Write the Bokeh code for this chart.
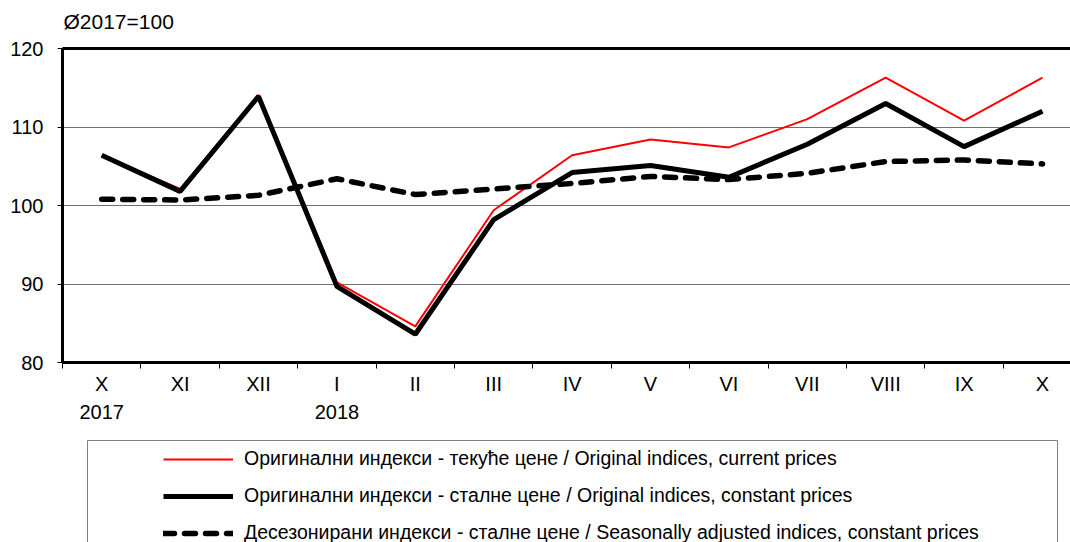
from bokeh.plotting import figure
from bokeh.layouts import column
from bokeh.models import Range1d, FixedTicker, LinearAxis, Legend, LegendItem, BoxAnnotation, Label
from bokeh.embed import file_html
from bokeh.resources import INLINE

# ---- data ----
months = ["X\n2017", "XI", "XII", "I\n2018", "II", "III", "IV", "V", "VI", "VII", "VIII", "IX", "X"]
current_prices = [106.4, 102.1, 114.1, 90.2, 84.6, 99.4, 106.4, 108.4, 107.4, 111.0, 116.3, 110.8, 116.3]
constant_prices = [106.4, 101.8, 113.9, 89.7, 83.6, 98.2, 104.2, 105.1, 103.6, 107.8, 113.0, 107.5, 112.0]
seasonally_adj = [100.8, 100.7, 101.3, 103.4, 101.4, 102.1, 102.8, 103.7, 103.3, 104.1, 105.6, 105.8, 105.3]
y_ticks = [80, 90, 100, 110, 120]
grid_ticks = [90, 100, 110]
labels = [
    "Оригинални индекси - текуће цене / Original indices, current prices",
    "Оригинални индекси - сталне цене / Original indices, constant prices",
    "Десезонирани индекси - сталне цене / Seasonally adjusted indices, constant prices",
]
base_note = "Ø2017=100"

FONT = "Liberation Sans"
x = list(range(len(months)))

RED = dict(line_color="#ff0000", line_width=2)
BLACK = dict(line_color="black", line_width=5)
DASH = dict(line_color="black", line_width=5.5, line_dash="11 10", line_cap="round")

# ---- header strip with the base note (data space = page pixels) ----
hd = figure(width=1070, height=36, output_backend="svg", toolbar_location=None,
            x_range=Range1d(62, 1070), y_range=Range1d(36, 0),
            x_axis_location=None, y_axis_location=None,
            min_border_left=62, min_border_right=0, min_border_top=0, min_border_bottom=0)
hd.grid.visible = False
hd.outline_line_color = None
hd.add_layout(Label(x=63, y=21, text=base_note, text_font=FONT, text_font_size="21px",
                    text_color="black", text_baseline="alphabetic", text_align="left"))

# ---- main chart ----
p = figure(width=1070, height=394, output_backend="svg", toolbar_location=None,
           x_range=Range1d(-0.5, 12.357), y_range=Range1d(80, 120),
           min_border_left=62, min_border_right=0, min_border_top=12, min_border_bottom=68)
p.outline_line_color = None
p.background_fill_color = "white"

# x axis: labels at month centres, minor ticks at month boundaries
xa = p.xaxis[0]
xa.ticker = FixedTicker(ticks=x, minor_ticks=[i - 0.5 for i in range(len(months) + 1)])
xa.major_label_overrides = {i: m for i, m in enumerate(months)}
xa.major_tick_in = 0
xa.major_tick_out = 0
xa.minor_tick_in = 0
xa.minor_tick_out = 6
xa.minor_tick_line_color = "black"
xa.minor_tick_line_width = 1
xa.axis_line_width = 3
xa.axis_line_color = "black"
xa.major_label_text_font = FONT
xa.major_label_text_font_size = "20px"
xa.major_label_text_color = "black"
xa.major_label_standoff = 4
xa.major_label_text_line_height = 1.3

ya = p.yaxis[0]
ya.ticker = FixedTicker(ticks=y_ticks, minor_ticks=[])
ya.major_tick_in = 0
ya.major_tick_out = 5
ya.major_tick_line_color = "black"
ya.axis_line_width = 3
ya.axis_line_color = "black"
ya.major_label_text_font = FONT
ya.major_label_text_font_size = "20px"
ya.major_label_text_color = "black"
ya.major_label_standoff = 14

top_axis = LinearAxis(ticker=FixedTicker(ticks=[]), axis_line_width=3, axis_line_color="black",
                      major_label_text_font_size="0px", major_tick_line_color=None,
                      minor_tick_line_color=None, major_tick_out=0, major_label_standoff=0)
p.add_layout(top_axis, "above")

p.xgrid.visible = False
p.ygrid.ticker = FixedTicker(ticks=grid_ticks)
p.ygrid.grid_line_color = "#707070"
p.ygrid.grid_line_width = 1

p.line(x, current_prices, **RED)
p.line(x, constant_prices, **BLACK)
p.line(x, seasonally_adj, **DASH)

# ---- legend panel: a figure whose data space equals page pixels ----
lg = figure(width=1070, height=112, output_backend="svg", toolbar_location=None,
            x_range=Range1d(62, 1070), y_range=Range1d(112, 0),
            x_axis_location=None, y_axis_location=None,
            min_border_left=62, min_border_right=0, min_border_top=0, min_border_bottom=0)
lg.grid.visible = False
lg.outline_line_color = None
lg.background_fill_color = "white"

lg.add_layout(BoxAnnotation(left=87, right=1057, top=10, bottom=140,
                            fill_alpha=0, line_color="#808080", line_width=1, line_alpha=1))

# legend proxies: same series, lying outside this panel's visible x range
k_cur = lg.line(x, current_prices, **RED)
k_con = lg.line(x, constant_prices, **BLACK)
k_sea = lg.line(x, seasonally_adj, **DASH)

leg = Legend(items=[LegendItem(label=labels[0], renderers=[k_cur]),
                    LegendItem(label=labels[1], renderers=[k_con]),
                    LegendItem(label=labels[2], renderers=[k_sea])],
             location=(101, -2), padding=7, spacing=14, margin=0,
             glyph_width=70, glyph_height=22, label_height=22, label_standoff=11,
             label_text_font=FONT, label_text_font_size="19.5px", label_text_color="black",
             border_line_color=None, background_fill_alpha=0)
lg.add_layout(leg, "center")

layout = column(hd, p, lg, spacing=0)
open("out.html", "w").write(file_html(layout, INLINE))
